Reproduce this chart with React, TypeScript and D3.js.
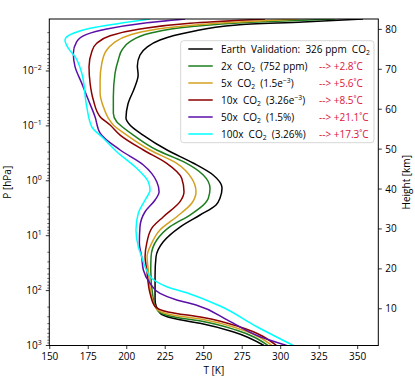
import React from "react";
import * as d3 from "d3";

type Pt = [number, number]; // [T in K, P in hPa]

const earth: Pt[] = [
  [353.5, 0.00113], [314.5, 0.00128], [271.6, 0.00145], [241.1, 0.00195], [221.6, 0.00272],
  [213.2, 0.00366], [208.6, 0.00511], [206.9, 0.00811], [207.4, 0.0118], [205.0, 0.0204],
  [200.8, 0.0399], [199.5, 0.0718], [202.1, 0.0964], [210.6, 0.147], [226.2, 0.275],
  [243.1, 0.474], [256.1, 0.784], [261.9, 1.35], [260.6, 2.06], [258.0, 2.75], [247.6, 4.2],
  [234.6, 6.95], [223.6, 13.0], [219.0, 24.4], [218.4, 52.0], [218.4, 148], [221.6, 256],
  [230.1, 320], [247.6, 394], [269.0, 561], [289.1, 1000],
];
const co2x2: Pt[] = [
  [335.3, 0.00113], [280.1, 0.0013], [241.1, 0.00156], [215.1, 0.00206], [202.1, 0.00292],
  [196.9, 0.00414], [194.5, 0.00631], [192.4, 0.011], [191.3, 0.0294], [191.3, 0.0589],
  [193.5, 0.0838], [195.7, 0.0964], [204.3, 0.147], [219.5, 0.275], [236.8, 0.449],
  [249.7, 0.784], [254.1, 1.37], [253.0, 2.08], [250.9, 2.57], [241.1, 4.2], [228.1, 6.85],
  [219.5, 12.0], [215.8, 24.2], [215.6, 42.2], [217.1, 136], [220.3, 235], [229.4, 297],
  [249.6, 366], [271.0, 522], [291.8, 1000],
];
const co2x5: Pt[] = [
  [312.6, 0.00113], [258.5, 0.00135], [226.0, 0.00163], [202.1, 0.00221], [191.3, 0.00313],
  [187.0, 0.00414], [183.8, 0.00724], [182.7, 0.0146], [182.7, 0.0255], [184.8, 0.0447],
  [188.1, 0.0727], [191.3, 0.0964], [200.0, 0.147], [215.1, 0.275], [232.5, 0.48],
  [242.2, 0.9], [245.0, 1.58], [242.2, 2.57], [232.5, 4.51], [221.6, 7.87], [216.2, 13.7],
  [213.2, 24.2], [214.0, 42.2], [216.1, 125], [219.4, 216], [228.1, 272], [249.6, 336],
  [272.3, 490], [294.4, 1000],
];
const co2x10: Pt[] = [
  [289.8, 0.00113], [241.1, 0.00135], [208.6, 0.00172], [189.2, 0.00228], [180.5, 0.00313],
  [177.3, 0.00445], [175.5, 0.00835], [176.2, 0.0168], [178.3, 0.0338], [182.7, 0.0679],
  [189.2, 0.0964], [195.7, 0.147], [210.8, 0.275], [226.0, 0.48], [235.7, 0.9],
  [237.2, 1.58], [234.6, 2.4], [223.8, 4.51], [216.2, 7.33], [213.0, 13.7], [211.9, 24.2],
  [213.0, 42.2], [215.1, 111], [218.4, 195], [226.8, 245], [249.6, 309], [273.6, 460],
  [297.3, 1000],
];
const co2x50: Pt[] = [
  [237.9, 0.00113], [210.8, 0.00135], [187.0, 0.00172], [174.0, 0.00215], [167.5, 0.00292],
  [165.3, 0.00476], [166.4, 0.00835], [170.8, 0.0168], [175.1, 0.0338], [179.4, 0.0679],
  [182.7, 0.135], [195.7, 0.275], [210.8, 0.515], [219.5, 1.04], [221.0, 1.58],
  [218.4, 2.24], [211.9, 3.66], [208.6, 6.85], [208.2, 13.7], [209.7, 24.2], [210.8, 42.2],
  [215.1, 73.6], [221.6, 112], [232.5, 148], [245.0, 183], [265.5, 344], [286.6, 692],
  [303.9, 1000],
];
const co2x100: Pt[] = [
  [215.1, 0.00113], [197.8, 0.00132], [176.2, 0.00167], [165.3, 0.00206], [159.9, 0.00272],
  [161.9, 0.00381], [166.4, 0.00549], [170.8, 0.011], [174.0, 0.0447], [177.3, 0.104],
  [184.8, 0.168], [193.5, 0.295], [206.5, 0.592], [214.0, 1.04], [215.1, 1.47],
  [211.9, 2.24], [207.5, 3.91], [206.0, 7.87], [207.5, 15.8], [209.7, 24.2], [211.9, 36.7],
  [216.2, 59.7], [226.0, 84.9], [241.1, 115], [260.6, 191], [284.6, 455], [308.2, 1000],
];

const seriesData: Pt[][] = [earth, co2x2, co2x5, co2x10, co2x50, co2x100];
const seriesColors = ["#000000", "#1e7d1e", "#d4a020", "#8b0000", "#5a0fa8", "#00ffff"];
const legendPrefix = ["Earth  Validation:  326 ppm  ", "2x  ", "5x  ", "10x  ", "50x  ", "100x  "];
const legendSuffix = ["", "  (752 ppm)", "  (1.5e", "  (3.26e", "  (1.5%)", "  (3.26%)"];
const legendSup = ["", "", "−3", "−3", "", ""];
const legendClose = ["", "", ")", ")", "", ""];
const deltaLabels = ["", "--> +2.8˚C", "--> +5.6˚C", "--> +8.5˚C", "--> +21.1˚C", "--> +17.3˚C"];

const xTicks = [150, 175, 200, 225, 250, 275, 300, 325, 350];
const pExps = [-2, -1, 0, 1, 2, 3];
const hTicks = [10, 20, 30, 40, 50, 60, 70, 80];

const FONT = "'Open Sans', 'DejaVu Sans', sans-serif";

export default function App() {
  const W = 415, H = 381;
  const L = 49.3, R = 378.3, T = 19, B = 345.5;
  const x = d3.scaleLinear().domain([149.7, 363.4]).range([L, R]);
  const y = d3.scaleLog().domain([1000, 1.13e-3]).range([B, T]);
  const yh = d3.scaleLinear().domain([0.8, 82.6]).range([B, T]);
  const line = d3
    .line<Pt>()
    .x((d) => x(d[0]))
    .y((d) => y(d[1]))
    .curve(d3.curveMonotoneY);

  const minor: number[] = [];
  for (let e = -3; e <= 2; e++) {
    for (let k = 2; k <= 9; k++) {
      const p = k * Math.pow(10, e);
      if (p >= 1.13e-3 && p <= 1000) minor.push(p);
    }
  }

  const legX = 180.7, legY = 40.7, legW = 193.3, legH = 102;
  const rowY0 = 49, rowDy = 17;

  return (
    <svg
      width={W}
      height={H}
      style={{ position: "absolute", left: 0, top: 0, background: "#fff" }}
      fontFamily={FONT}
    >
      <rect x={0} y={0} width={W} height={H} fill="#fff" />
      <defs>
        <clipPath id="plotclip">
          <rect x={L} y={T} width={R - L} height={B - T} />
        </clipPath>
      </defs>
      <g clipPath="url(#plotclip)">
        {seriesData.map((s, i) => (
          <path key={i} d={line(s) || ""} fill="none" stroke={seriesColors[i]} strokeWidth={1.5} />
        ))}
      </g>
      <rect x={L} y={T} width={R - L} height={B - T} fill="none" stroke="#000" strokeWidth={1} />

      {xTicks.map((t) => (
        <g key={t}>
          <line x1={x(t)} x2={x(t)} y1={B} y2={B + 3.5} stroke="#000" strokeWidth={0.8} />
          <text x={x(t)} y={B + 14} fontSize={10} textAnchor="middle" fill="#000">
            {t}
          </text>
        </g>
      ))}
      <text x={(L + R) / 2} y={374} fontSize={10} textAnchor="middle" fill="#000">
        T [K]
      </text>

      {minor.map((p, i) => (
        <line key={i} x1={L} x2={L - 2} y1={y(p)} y2={y(p)} stroke="#000" strokeWidth={0.6} />
      ))}
      {pExps.map((e) => {
        const p = Math.pow(10, e);
        return (
          <g key={e}>
            <line x1={L} x2={L - 3.5} y1={y(p)} y2={y(p)} stroke="#000" strokeWidth={0.8} />
            <text x={L - 7.5} y={y(p) + 3.5} fontSize={10} textAnchor="end" fill="#000">
              10
              <tspan fontSize={7} dy={-4.5}>
                {e < 0 ? "−" + Math.abs(e) : String(e)}
              </tspan>
            </text>
          </g>
        );
      })}
      <text
        transform={`translate(10.5, ${(T + B) / 2}) rotate(-90)`}
        fontSize={10}
        textAnchor="middle"
        fill="#000"
      >
        P [hPa]
      </text>

      {hTicks.map((h) => (
        <g key={h}>
          <line x1={R} x2={R + 3.5} y1={yh(h)} y2={yh(h)} stroke="#000" strokeWidth={0.8} />
          <text x={R + 7} y={yh(h) + 3.5} fontSize={10} fill="#000">
            {h}
          </text>
        </g>
      ))}
      <text
        transform={`translate(410, ${(T + B) / 2}) rotate(-90)`}
        fontSize={10}
        textAnchor="middle"
        fill="#000"
      >
        Height [km]
      </text>

      <rect
        x={legX}
        y={legY}
        width={legW}
        height={legH}
        rx={3}
        fill="#fff"
        fillOpacity={0.85}
        stroke="#cccccc"
        strokeWidth={0.8}
      />
      {seriesData.map((_, i) => {
        const ry = rowY0 + i * rowDy;
        return (
          <g key={i}>
            <line x1={188.3} x2={212.7} y1={ry} y2={ry} stroke={seriesColors[i]} strokeWidth={1.5} />
            <text x={221} y={ry + 3.5} fontSize={10} fill="#000" style={{ whiteSpace: "pre" }}>
              {legendPrefix[i]}CO
              <tspan fontSize={6.8} dy={2}>2</tspan>
              <tspan dy={-2}>{legendSuffix[i]}</tspan>
              {legendSup[i] ? (
                <tspan fontSize={6.8} dy={-4}>{legendSup[i]}</tspan>
              ) : null}
              {legendClose[i] ? <tspan dy={4}>{legendClose[i]}</tspan> : null}
            </text>
            {deltaLabels[i] ? (
              <text x={319} y={ry + 3.5} fontSize={10} fill="#dc143c" style={{ whiteSpace: "pre" }}>
                {deltaLabels[i]}
              </text>
            ) : null}
          </g>
        );
      })}
    </svg>
  );
}
